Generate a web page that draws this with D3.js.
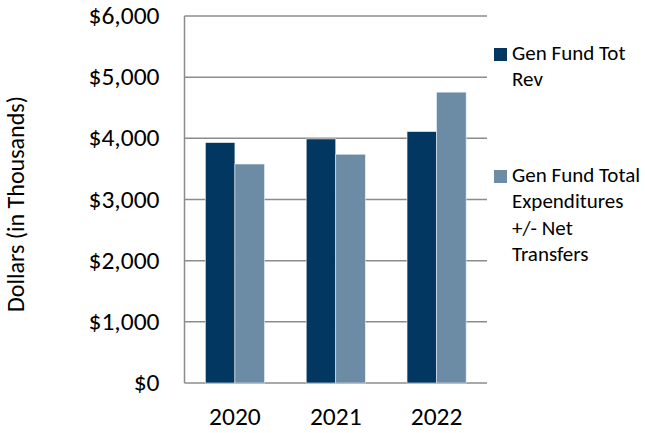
<!DOCTYPE html>
<html>
<head>
<meta charset="utf-8">
<script src="https://cdn.jsdelivr.net/npm/d3@7"></script>
<style>
  html, body { margin: 0; padding: 0; background: #fff; }
  svg { display: block; font-family: Calibri, Carlito, Lato, sans-serif; }
</style>
</head>
<body>
<svg id="chart" width="645" height="433"></svg>
<script>
// General fund revenue vs. expenditures, in thousands of dollars
const years = ["2020", "2021", "2022"];
const seriesNames = ["Gen Fund Tot Rev", "Gen Fund Total Expenditures +/- Net Transfers"];
const revenue = [3930, 3990, 4110];
const expenditures = [3580, 3740, 4755];
const yTicks = [0, 1000, 2000, 3000, 4000, 5000, 6000];
const legendLines = [["Gen Fund Tot", "Rev"], ["Gen Fund Total", "Expenditures", "+/- Net", "Transfers"]];
const colors = ["#023762", "#6c8ba5"];

const svg = d3.select("#chart");
const plot = { left: 184.5, right: 487, top: 16, bottom: 383 };

const x0 = d3.scaleBand().domain(years).range([plot.left, plot.right]).paddingInner(0.414).paddingOuter(0.207);
const x1 = d3.scaleBand().domain([0, 1]).range([0, x0.bandwidth()]);
const y = d3.scaleLinear().domain([0, 6000]).range([plot.bottom, plot.top]);

// gridlines
svg.append("g").selectAll("line").data(yTicks).join("line")
  .attr("x1", plot.left).attr("x2", plot.right)
  .attr("y1", d => y(d)).attr("y2", d => y(d))
  .attr("stroke", "#8c8c8c").attr("stroke-width", 1.5);

// left axis line
svg.append("line")
  .attr("x1", plot.left).attr("x2", plot.left)
  .attr("y1", plot.top).attr("y2", plot.bottom)
  .attr("stroke", "#8c8c8c").attr("stroke-width", 1.5);

// bars
const data = years.map((yr, i) => ({ year: yr, values: [revenue[i], expenditures[i]] }));
svg.append("g").selectAll("g").data(data).join("g")
  .attr("transform", d => `translate(${x0(d.year)},0)`)
  .selectAll("rect").data(d => d.values.map((v, k) => ({ v, k }))).join("rect")
  .attr("x", d => x1(d.k))
  .attr("y", d => y(d.v))
  .attr("width", x1.bandwidth())
  .attr("height", d => y(0) - y(d.v))
  .attr("fill", d => colors[d.k])
  .attr("stroke", "#e8eef3").attr("stroke-width", 0.6);

// y tick labels
const fmt = d => "$" + d3.format(",")(d);
svg.append("g").selectAll("text").data(yTicks).join("text")
  .attr("x", 159.5).attr("y", d => y(d)).attr("dy", "0.32em")
  .attr("text-anchor", "end").attr("font-size", 25.5).attr("fill", "#000")
  .text(fmt);

// x tick labels
svg.append("g").selectAll("text").data(years).join("text")
  .attr("x", d => x0(d) + x0.bandwidth() / 2).attr("y", 424.5)
  .attr("text-anchor", "middle").attr("font-size", 25.5).attr("fill", "#000")
  .text(d => d);

// y axis title
svg.append("text")
  .attr("transform", "translate(24,204) rotate(-90)")
  .attr("text-anchor", "middle").attr("font-size", 24).attr("fill", "#000")
  .text("Dollars (in Thousands)");

// legend
const legendTops = [48, 170];
seriesNames.forEach((name, k) => {
  const g = svg.append("g").attr("transform", `translate(494,${legendTops[k]})`);
  g.append("rect").attr("width", 13).attr("height", 13).attr("fill", colors[k]);
  g.append("text").attr("font-size", 21).attr("fill", "#000")
    .selectAll("tspan").data(legendLines[k]).join("tspan")
    .attr("x", 18).attr("y", (d, i) => 12 + i * 26.3)
    .text(d => d);
});
</script>
</body>
</html>
